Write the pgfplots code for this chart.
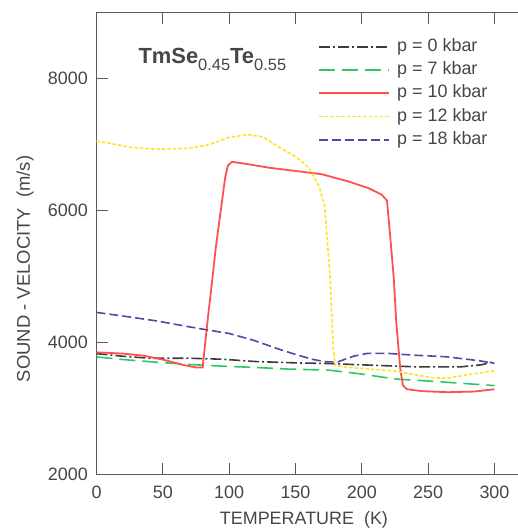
\documentclass[border=0pt]{standalone}
\usepackage{pgfplots}
\pgfplotsset{compat=1.18}
\usepackage{fontspec}
\setmainfont{Liberation Sans}
\definecolor{txt}{RGB}{70,70,70}
\definecolor{axc}{RGB}{90,90,90}
\definecolor{cblack}{RGB}{60,60,60}
\definecolor{cgreen}{RGB}{45,200,100}
\definecolor{cred}{RGB}{255,80,80}
\definecolor{cyellow}{RGB}{255,225,40}
\definecolor{cblue}{RGB}{85,70,165}
\begin{document}
\begin{tikzpicture}
\begin{axis}[
  name=ax,
  scale only axis,
  width=422.5bp, height=461.6bp,
  xmin=0, xmax=318.5, ymin=2000, ymax=9000,
  xtick={0,50,...,300}, ytick={2000,4000,6000,8000},
  xtick pos=both, ytick pos=left,
  tick align=inside, major tick length=11bp,
  every tick/.style={axc, line width=1bp},
  axis line style={axc, line width=1.2bp},
  /pgf/number format/assume math mode=true,
  /pgf/number format/1000 sep={},
  tick label style={font=\fontsize{18}{20}\selectfont, text=txt},
  x tick label style={inner sep=0pt, yshift=-11bp},
  y tick label style={inner sep=0pt, xshift=-8.5bp},
  xlabel={TEMPERATURE\ \ (K)},
  ylabel={SOUND - VELOCITY\ \ (m/s)},
  every axis x label/.style={at={(rel axis cs:0.491,0)}, anchor=center, yshift=-45.7bp, font=\fontsize{18}{20}\selectfont, text=txt},
  every axis y label/.style={at={(rel axis cs:0,0.445)}, anchor=center, rotate=90, yshift=71.5bp, font=\fontsize{18.5}{20}\selectfont, text=txt},
  legend cell align=left,
  legend image code/.code={\draw[#1] (0bp,0bp) -- (70bp,0bp);},
  legend style={draw=none, fill=none, at={(rel axis cs:0.5248,0.945)}, anchor=north west,
    font=\fontsize{18}{20}\selectfont, text=txt, inner sep=0pt, row sep=6.3bp,
    nodes={text height=13bp, text depth=4bp, inner ysep=0pt, inner xsep=7bp}},
  clip=false,
]
\addplot[cblack, line width=1.6bp, dash pattern=on 11bp off 3bp on 2bp off 3bp] coordinates {
(0,3830)(20,3790)(40,3760)(70,3760)(95,3745)(120,3710)(150,3690)(175,3680)(200,3660)(240,3630)(275,3630)(290,3660)(300,3710)};
\addlegendentry{p = 0 kbar}
\addplot[cgreen, line width=1.6bp, dash pattern=on 16bp off 7bp] coordinates {
(0,3780)(20,3740)(45,3700)(70,3665)(95,3640)(120,3620)(145,3595)(175,3580)(200,3520)(225,3445)(250,3415)(275,3380)(300,3345)};
\addlegendentry{p = 7 kbar}
\addplot[cred, line width=1.8bp] coordinates {
(0,3850)(20,3830)(35,3800)(50,3740)(65,3660)(75,3620)(80,3620)(82,4000)(84,4380)(87,4900)(90,5450)(94,6050)(97,6500)(99,6680)(102,6740)(115,6700)(130,6650)(150,6600)(170,6550)(190,6440)(205,6340)(215,6240)(219,6150)(221,5700)(224,5000)(226,4300)(229,3600)(231,3350)(234,3290)(246,3260)(265,3245)(285,3255)(300,3290)};
\addlegendentry{p = 10 kbar}
\addplot[cyellow, line width=1.6bp, dash pattern=on 3.5bp off 2bp] coordinates {
(0,7050)(10,7020)(25,6960)(45,6930)(70,6945)(85,7000)(100,7110)(114,7150)(125,7120)(140,6930)(150,6820)(160,6650)(168,6360)(172,6060)(174,5550)(176,5000)(177,4600)(178.5,3900)(180,3650)(190,3620)(200,3605)(225,3565)(240,3510)(255,3460)(265,3460)(280,3510)(300,3570)};
\addlegendentry{p = 12 kbar}
\addplot[cblue, line width=1.6bp, dash pattern=on 9bp off 4bp] coordinates {
(0,4455)(20,4400)(45,4327)(70,4236)(95,4151)(100,4136)(118,4035)(138,3894)(150,3818)(163,3742)(173,3706)(182,3706)(194,3792)(204,3833)(220,3833)(239,3807)(264,3782)(289,3721)(300,3682)};
\addlegendentry{p = 18 kbar}
\node[anchor=base west, inner sep=0pt, text=txt] at (rel axis cs:0.099,0.891)
  {\fontsize{22}{24}\selectfont\bfseries TmSe\raisebox{-7.5bp}{\fontsize{16.5}{18}\selectfont\mdseries 0.45}Te\raisebox{-7.5bp}{\fontsize{16.5}{18}\selectfont\mdseries 0.55}};
\end{axis}
\pgfresetboundingbox
\path[use as bounding box] ([shift={(-96.5bp,-54.7bp)}]ax.south west) rectangle ([shift={(-1bp,12.7bp)}]ax.north east);
\end{tikzpicture}
\end{document}
